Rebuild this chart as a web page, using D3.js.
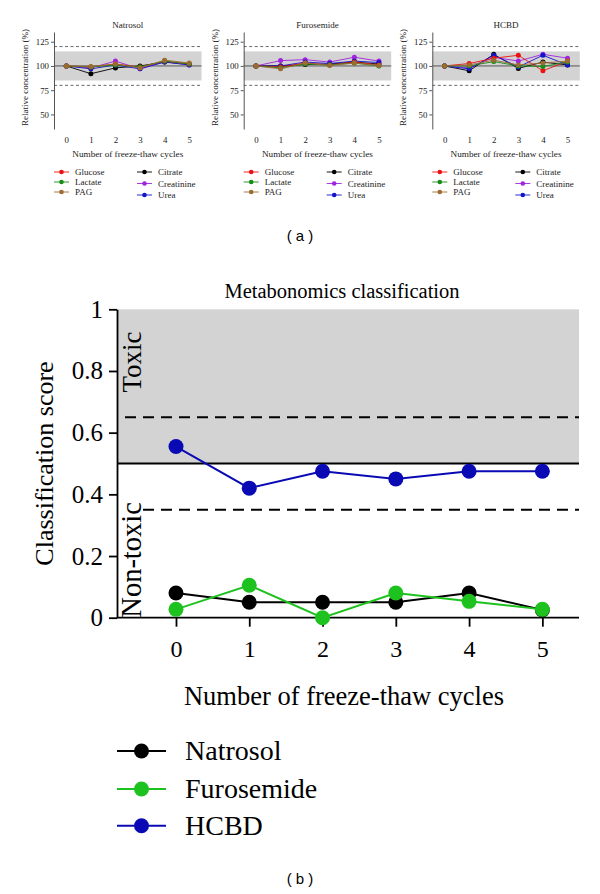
<!DOCTYPE html>
<html><head><meta charset="utf-8">
<script src="https://cdn.jsdelivr.net/npm/d3@7"></script>
<style>body{margin:0;background:#fff}svg{display:block}</style>
</head><body>
<svg id="c" width="600" height="894"></svg>
<script>
// ---------- data ----------
const cycles = [0, 1, 2, 3, 4, 5];
const metabolites = ["Glucose", "Lactate", "PAG", "Citrate", "Creatinine", "Urea"];
const metaboliteColors = ["#EE1111", "#168C16", "#9C6B32", "#000000", "#A024E0", "#1414CC"];
const panelTitles = ["Natrosol", "Furosemide", "HCBD"];
const topYTicks = [50, 75, 100, 125];

// values in order of `metabolites`
const natrosolValues = [
  [100, 99, 102, 99, 105, 102],   // Glucose
  [100, 99, 101, 99, 105, 102],   // Lactate
  [100, 99.5, 102, 98, 106, 103], // PAG
  [100, 92, 98, 100, 104, 102],   // Citrate
  [100, 98, 105, 97, 104.5, 101], // Creatinine
  [100, 97, 101, 97, 104, 101]    // Urea
];
const furosemideValues = [
  [100, 99, 103, 101, 104, 101],
  [100, 98, 102, 101, 103, 100],
  [100, 97, 103, 100.5, 103, 100.5],
  [100, 100, 101.5, 102, 104, 102],
  [100, 105.5, 106.5, 104, 109, 105],
  [100, 100, 104, 102.5, 105, 103.5]
];
const hcbdValues = [
  [100, 102.5, 108, 111, 95, 105],
  [100, 100, 104.5, 100, 99.5, 104],
  [100, 101, 106, 101, 103, 105],
  [100, 95, 112, 97.5, 104, 101],
  [100, 98, 109, 105, 112, 108],
  [100, 97, 111, 99, 111, 101]
];
const panelValues = [natrosolValues, furosemideValues, hcbdValues];

// panel b
const groups = ["Natrosol", "Furosemide", "HCBD"];
const groupColors = ["#000000", "#1EC21E", "#0A0AB4"];
const natrosolScore = [0.08, 0.05, 0.05, 0.05, 0.08, 0.025];
const furosemideScore = [0.027, 0.105, 0.0, 0.08, 0.053, 0.027];
const hcbdScore = [0.555, 0.42, 0.475, 0.45, 0.475, 0.475];
const groupScores = [natrosolScore, furosemideScore, hcbdScore];
const scoreTicks = [0, 0.2, 0.4, 0.6, 0.8, 1];
const scoreTickLabels = ["0", "0.2", "0.4", "0.6", "0.8", "1"];

const serif = "'Liberation Serif', 'Times New Roman', serif";
const svg = d3.select("#c");

// ---------- panel a ----------
const panelLeft = [54, 243.7, 432.3];
const panelW = 147.5;
const yTop = d3.scaleLinear().domain([35, 135]).range([129, 32]);
const drawOrder = [3, 4, 5, 0, 1, 2];

panelLeft.forEach((x0, p) => {
  const g = svg.append("g");
  const x = d3.scaleLinear().domain([-0.5, 5.5]).range([x0, x0 + panelW]);
  g.append("rect").attr("x", x0).attr("width", panelW)
    .attr("y", yTop(115)).attr("height", yTop(85) - yTop(115)).attr("fill", "#D3D3D3");
  [120, 80].forEach(v => g.append("line")
    .attr("x1", x0).attr("x2", x0 + panelW).attr("y1", yTop(v)).attr("y2", yTop(v))
    .attr("stroke", "#444").attr("stroke-width", 0.8).attr("stroke-dasharray", "3,2.5"));
  g.append("line").attr("x1", x0).attr("x2", x0 + panelW)
    .attr("y1", yTop(100)).attr("y2", yTop(100)).attr("stroke", "#333").attr("stroke-width", 0.8);

  const ya = g.append("g").attr("transform", `translate(${x0},0)`)
    .call(d3.axisLeft(yTop).tickValues(topYTicks).tickSize(3).tickSizeOuter(0).tickPadding(2));
  ya.select(".domain").attr("stroke", "#555");
  ya.selectAll(".tick line").attr("stroke", "#555");
  ya.selectAll("text").attr("font-family", serif).attr("font-size", 8.8).attr("fill", "#222");

  const xa = g.append("g").attr("transform", `translate(0,129)`)
    .call(d3.axisBottom(x).tickValues(cycles).tickSize(0).tickPadding(8).tickFormat(d3.format("d")));
  xa.select(".domain").remove();
  xa.selectAll("text").attr("font-family", serif).attr("font-size", 8.8).attr("fill", "#222");

  const line = d3.line().x((d, i) => x(cycles[i])).y(d => yTop(d));
  drawOrder.forEach(m => {
    const vals = panelValues[p][m];
    g.append("path").attr("d", line(vals)).attr("fill", "none")
      .attr("stroke", metaboliteColors[m]).attr("stroke-width", 0.9);
    g.selectAll(null).data(vals).enter().append("circle")
      .attr("cx", (d, i) => x(cycles[i])).attr("cy", d => yTop(d)).attr("r", 2.5)
      .attr("fill", metaboliteColors[m]);
  });

  g.append("text").attr("x", x0 + panelW / 2).attr("y", 28).attr("text-anchor", "middle")
    .attr("font-family", serif).attr("font-size", 9).attr("fill", "#222").text(panelTitles[p]);
  g.append("text").attr("x", x0 + panelW / 2).attr("y", 157).attr("text-anchor", "middle")
    .attr("font-family", serif).attr("font-size", 9.2).attr("fill", "#222")
    .text("Number of freeze-thaw cycles");
  g.append("text").attr("transform", `translate(${x0 - 26},${yTop(88)}) rotate(-90)`)
    .attr("text-anchor", "middle").attr("font-family", serif).attr("font-size", 9)
    .attr("fill", "#222").text("Relative concentration (%)");

  metabolites.forEach((name, m) => {
    const col = Math.floor(m / 3), row = m % 3;
    const lx = x0 + col * 83;
    const ly = 172 + row * (col === 0 ? 10 : 11.5);
    g.append("line").attr("x1", lx).attr("x2", lx + 15).attr("y1", ly).attr("y2", ly)
      .attr("stroke", metaboliteColors[m]).attr("stroke-width", 0.9);
    g.append("circle").attr("cx", lx + 7.5).attr("cy", ly).attr("r", 2.3).attr("fill", metaboliteColors[m]);
    g.append("text").attr("x", lx + 21).attr("y", ly + 3).attr("font-family", serif)
      .attr("font-size", 9).attr("fill", "#222").text(name);
  });
});

svg.append("text").attr("x", 300).attr("y", 241).attr("text-anchor", "middle")
  .attr("font-family", "'Liberation Sans', Arial, sans-serif").attr("font-size", 15).text("( a )");

// ---------- panel b ----------
const xb = d3.scaleLinear().domain([-0.805, 5.5]).range([117, 579]);
const yb = d3.scaleLinear().domain([0, 1]).range([617.7, 309.3]);
const gb = svg.append("g");

gb.append("rect").attr("x", xb(-0.805)).attr("width", xb(5.5) - xb(-0.805))
  .attr("y", yb(1)).attr("height", yb(0.5) - yb(1)).attr("fill", "#D3D3D3");
gb.append("line").attr("x1", xb(-0.805)).attr("x2", xb(5.5)).attr("y1", yb(0.5)).attr("y2", yb(0.5))
  .attr("stroke", "#000").attr("stroke-width", 1.8);
gb.append("line").attr("x1", xb(-0.805) + 8).attr("x2", xb(5.5)).attr("y1", yb(0.65)).attr("y2", yb(0.65))
  .attr("stroke", "#000").attr("stroke-width", 1.8).attr("stroke-dasharray", "11,7");
gb.append("line").attr("x1", xb(-0.805) + 26).attr("x2", xb(5.5)).attr("y1", yb(0.35)).attr("y2", yb(0.35))
  .attr("stroke", "#000").attr("stroke-width", 1.8).attr("stroke-dasharray", "11,7");
gb.append("line").attr("x1", xb(-0.805)).attr("x2", xb(5.5)).attr("y1", yb(0)).attr("y2", yb(0))
  .attr("stroke", "#000").attr("stroke-width", 1.8);

const yab = gb.append("g").attr("transform", `translate(117,0)`)
  .call(d3.axisLeft(yb).tickValues(scoreTicks).tickSize(8).tickSizeOuter(0).tickPadding(6)
    .tickFormat((d, i) => scoreTickLabels[i]));
yab.select(".domain").attr("stroke-width", 1.8);
yab.selectAll(".tick line").attr("stroke-width", 1.8);
yab.selectAll("text").attr("font-family", serif).attr("font-size", 25).attr("fill", "#000");

const xab = gb.append("g").attr("transform", `translate(0,${yb(0)})`)
  .call(d3.axisBottom(xb).tickValues(cycles).tickSize(9).tickPadding(13).tickFormat(d3.format("d")));
xab.select(".domain").remove();
xab.selectAll(".tick line").attr("stroke-width", 1.8);
xab.selectAll("text").attr("font-family", serif).attr("font-size", 24).attr("fill", "#000");

gb.append("text").attr("transform", `translate(141,${(331 + 393) / 2}) rotate(-90)`)
  .attr("text-anchor", "middle").attr("font-family", serif).attr("font-size", 27).text("Toxic");
gb.append("text").attr("transform", `translate(141,${yb(0)}) rotate(-90)`)
  .attr("text-anchor", "start").attr("font-family", serif).attr("font-size", 28.5).text("Non-toxic");

[2, 0, 1].forEach(s => {
  const vals = groupScores[s];
  const line = d3.line().x((d, i) => xb(cycles[i])).y(d => yb(d));
  gb.append("path").attr("d", line(vals)).attr("fill", "none")
    .attr("stroke", groupColors[s]).attr("stroke-width", 2);
  gb.selectAll(null).data(vals).enter().append("circle")
    .attr("cx", (d, i) => xb(cycles[i])).attr("cy", d => yb(d)).attr("r", 7.5)
    .attr("fill", groupColors[s]);
});

gb.append("text").attr("x", 342).attr("y", 298).attr("text-anchor", "middle")
  .attr("font-family", serif).attr("font-size", 20.5).text("Metabonomics classification");
gb.append("text").attr("x", 344).attr("y", 705).attr("text-anchor", "middle")
  .attr("font-family", serif).attr("font-size", 26.5).text("Number of freeze-thaw cycles");
gb.append("text").attr("transform", `translate(53,${yb(0.5)}) rotate(-90)`)
  .attr("text-anchor", "middle").attr("font-family", serif).attr("font-size", 26).text("Classification score");

const legY = [751, 789, 825.7];
groups.forEach((name, s) => {
  gb.append("line").attr("x1", 117).attr("x2", 166).attr("y1", legY[s]).attr("y2", legY[s])
    .attr("stroke", groupColors[s]).attr("stroke-width", 2);
  gb.append("circle").attr("cx", 141.5).attr("cy", legY[s]).attr("r", 7.5).attr("fill", groupColors[s]);
  gb.append("text").attr("x", 185).attr("y", legY[s] + 9).attr("font-family", serif)
    .attr("font-size", 28).text(name);
});

svg.append("text").attr("x", 300).attr("y", 884).attr("text-anchor", "middle")
  .attr("font-family", "'Liberation Sans', Arial, sans-serif").attr("font-size", 15).text("( b )");
</script>
</body></html>
